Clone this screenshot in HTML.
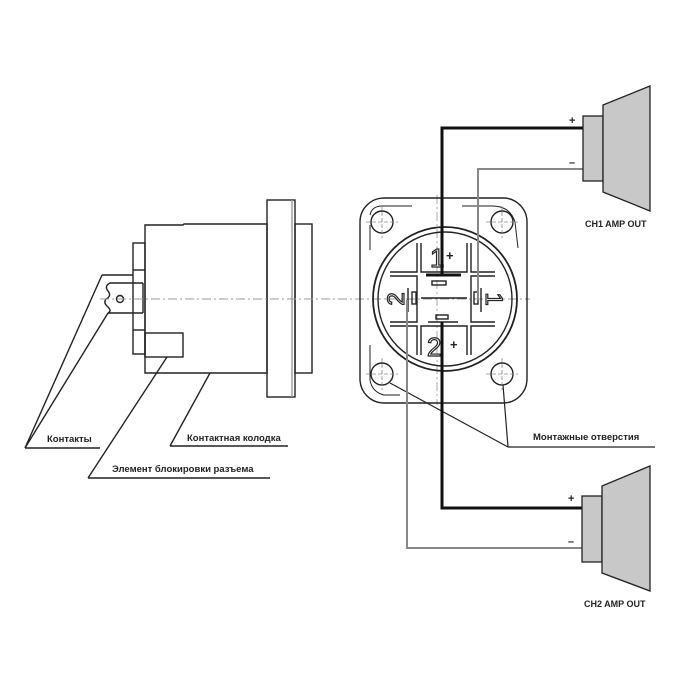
<!DOCTYPE html>
<html><head><meta charset="utf-8"><style>
html,body{margin:0;padding:0;background:#fff}
svg{display:block}
text{font-family:"Liberation Sans",sans-serif;font-weight:bold;font-size:9.5px;fill:#222}
</style></head><body>
<svg width="689" height="689" viewBox="0 0 689 689" xmlns="http://www.w3.org/2000/svg">
<g fill="none" stroke="#222" stroke-width="1.4">
<!-- side view -->
<path d="M145,225 L183,225 L184,224 L267,224 L267,373 L145,373 Z"/>
<rect x="267" y="200" width="28" height="197"/>
<line x1="292" y1="200" x2="292" y2="397" stroke="#999"/>
<rect x="295" y="224" width="17" height="149"/>
<rect x="133" y="243" width="12" height="111"/>
<line x1="133" y1="270" x2="145" y2="270"/><line x1="133" y1="330" x2="145" y2="330"/>
<rect x="145" y="333" width="38" height="24"/>
<path d="M143,283 L110,283 Q104,286 108,291 Q112,296 106,299 Q103,303 108,307 Q112,311 108,313 L143,313"/>
<circle cx="120" cy="299" r="3.5"/>
<line x1="102" y1="275" x2="133" y2="275"/>
<line x1="143" y1="283" x2="143" y2="313"/>
<!-- centerline -->
<line x1="100" y1="299" x2="530" y2="299" stroke="#999" stroke-width="1" stroke-dasharray="9,3,2,3"/>
<line x1="437" y1="195" x2="437" y2="405" stroke="#aaa" stroke-width="1" stroke-dasharray="9,3,2,3"/>
<!-- leaders left -->
<line x1="102" y1="275" x2="25" y2="448"/><line x1="108" y1="313" x2="25" y2="448"/>
<line x1="25" y1="448" x2="100" y2="448"/>
<line x1="210" y1="373" x2="170" y2="446"/><line x1="170" y1="446" x2="288" y2="446"/>
<line x1="167" y1="357" x2="88" y2="478"/><line x1="88" y1="478" x2="270" y2="478"/>
<!-- front view -->
<rect x="360" y="198" width="167" height="205" rx="24"/>
<path d="M370,215 Q372,206 382,206 L412,206 M462,206 L492,206 Q510,206 515,222 L518,248 M370,250 L370,225 M370,345 L370,380 Q372,392 384,395 L400,395" stroke-width="1"/>
<circle cx="382" cy="222" r="11"/><circle cx="502" cy="222" r="11"/>
<circle cx="382" cy="374" r="11"/><circle cx="502" cy="374" r="11"/>
<g stroke="#888" stroke-width="0.8" stroke-dasharray="4,2">
<line x1="366" y1="222" x2="398" y2="222"/><line x1="382" y1="206" x2="382" y2="238"/>
<line x1="486" y1="222" x2="518" y2="222"/><line x1="502" y1="206" x2="502" y2="238"/>
<line x1="366" y1="374" x2="398" y2="374"/><line x1="382" y1="358" x2="382" y2="390"/>
<line x1="486" y1="374" x2="518" y2="374"/><line x1="502" y1="358" x2="502" y2="390"/>
</g>
<circle cx="445" cy="299" r="72" stroke-width="1.8"/>
<circle cx="445" cy="299" r="67"/>
<!-- inner cross -->
<path d="M417,243 L417,272 L390,272 M390,276 L417,276 L417,322 L390,322 M390,326 L417,326 L417,355 M421,355 L421,326 L467,326 L467,355 M471,355 L471,326 L495,326 M495,322 L471,322 L471,276 L495,276 M495,272 L471,272 L471,243 M467,243 L467,272 L421,272 L421,243"/>
<line x1="421" y1="298" x2="467" y2="298"/>
<rect x="432" y="281" width="14" height="4"/>
<rect x="436" y="315" width="12" height="4"/>
<line x1="428" y1="322" x2="458" y2="322" stroke-width="1.5"/>
<rect x="412" y="292" width="4" height="12"/><rect x="474" y="292" width="4" height="12"/>
<line x1="408" y1="288" x2="408" y2="312"/><line x1="481" y1="288" x2="481" y2="312"/>
</g>
<line x1="426" y1="275" x2="461" y2="275" stroke="#111" stroke-width="3"/>
<g style="font-family:'Liberation Sans',sans-serif">
<text x="430" y="267" style="font-size:26px;font-weight:normal;fill:#fff;stroke:#222;stroke-width:1.2">1</text>
<text x="427" y="356" style="font-size:26px;font-weight:normal;fill:#fff;stroke:#222;stroke-width:1.2">2</text>
<text transform="translate(404,299) rotate(-90)" text-anchor="middle" style="font-size:24px;font-weight:normal;fill:#fff;stroke:#222;stroke-width:1.2">2</text>
<text transform="translate(486,299) rotate(90)" text-anchor="middle" style="font-size:24px;font-weight:normal;fill:#fff;stroke:#222;stroke-width:1.2">1</text>
</g>
<text x="446" y="260" style="font-size:13px">+</text>
<text x="450" y="349" style="font-size:13px">+</text>
<!-- mounting leader -->
<g fill="none" stroke="#222" stroke-width="1.2">
<line x1="390" y1="383" x2="508" y2="447"/><line x1="503" y1="385" x2="508" y2="447"/>
<line x1="508" y1="447" x2="655" y2="447"/>
</g>
<!-- wires -->
<g fill="none" stroke="#888" stroke-width="2">
<polyline points="478,300 478,169 583,169"/>
<polyline points="407,300 407,548 582,548"/>
</g>
<g fill="none" stroke="#111" stroke-width="3">
<polyline points="442,275 442,128 583,128"/>
<polyline points="442,322 442,508 582,508"/>
</g>
<!-- speakers -->
<g fill="#c8c8c8" stroke="#222" stroke-width="1.3">
<rect x="583" y="116" width="20" height="65"/>
<polygon points="603,105 650,86 650,211 603,192"/>
<rect x="582" y="496" width="20" height="66"/>
<polygon points="602,486 650,466 650,591 602,573"/>
</g>
<text x="569" y="124" style="font-size:11px">+</text>
<text x="569" y="166" style="font-size:11px">–</text>
<text x="568" y="502" style="font-size:11px">+</text>
<text x="568" y="545" style="font-size:11px">–</text>
<text x="585" y="227" style="font-size:9px">CH1 AMP OUT</text>
<text x="584" y="607" style="font-size:9px">CH2 AMP OUT</text>
<text x="47" y="442">Контакты</text>
<text x="187" y="441">Контактная колодка</text>
<text x="112" y="472">Элемент блокировки разъема</text>
<text x="533" y="440">Монтажные отверстия</text>
</svg>
</body></html>
